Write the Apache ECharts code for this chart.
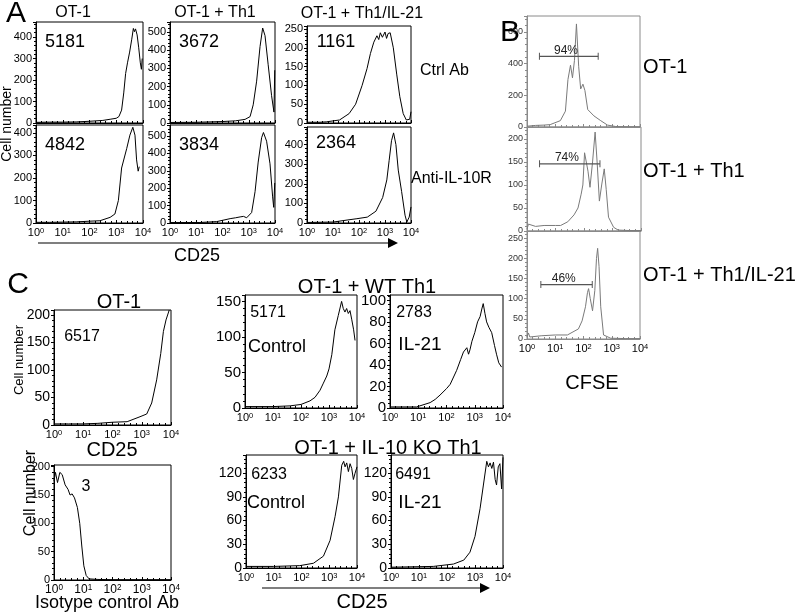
<!DOCTYPE html>
<html>
<head>
<meta charset="utf-8">
<script src="https://cdn.jsdelivr.net/npm/echarts@6/dist/echarts.min.js"></script>
<style>
  html, body { margin: 0; padding: 0; background: #fff; }
  #fig { width: 800px; height: 615px; }
</style>
</head>
<body>
<div id="fig"></div>
<script>
// x values are log10(fluorescence), y values are cell counts

// panel A, CD25 on OT-1 cells
var aOt1Ctrl = [[0,3],[0.5,4],[1,4],[1.5,5],[2,8],[2.5,12],[2.8,18],[3.0,22],[3.1,30],[3.2,60],[3.28,140],[3.35,230],[3.42,280],[3.5,330],[3.58,390],[3.64,440],[3.68,425],[3.72,438],[3.78,410],[3.84,350],[3.9,280],[3.94,250],[3.97,300]];
var aTh1Ctrl = [[0,3],[1,4],[2,8],[2.5,12],[2.86,20],[3.05,35],[3.17,100],[3.3,230],[3.43,420],[3.53,522],[3.62,480],[3.74,320],[3.87,150],[3.96,60],[3.99,290]];
var aIl21Ctrl = [[0,2],[0.5,2],[0.74,3],[1.25,8],[1.62,25],[1.87,50],[2.12,100],[2.31,145],[2.44,185],[2.57,215],[2.69,232],[2.76,222],[2.82,240],[2.9,228],[3.0,242],[3.06,225],[3.12,238],[3.2,240],[3.32,200],[3.45,130],[3.57,70],[3.7,25],[3.82,8],[3.95,10],[4.0,30]];
var aOt1Anti = [[0,3],[0.5,3],[1,4],[1.5,5],[2,8],[2.39,10],[2.77,25],[2.95,40],[3.08,100],[3.2,244],[3.39,330],[3.51,390],[3.62,425],[3.7,390],[3.76,280],[3.82,230],[3.86,250]];
var aTh1Anti = [[0,3],[1.14,3],[1.78,8],[2.29,25],[2.5,30],[2.67,35],[2.8,38],[2.92,30],[3.11,60],[3.24,180],[3.36,350],[3.49,490],[3.56,520],[3.68,470],[3.81,340],[3.91,150],[3.95,90],[3.99,230]];
var aIl21Anti = [[0,3],[0.12,3],[1.02,5],[1.54,15],[1.92,22],[2.32,30],[2.65,60],[2.91,130],[3.07,220],[3.16,320],[3.25,420],[3.33,460],[3.42,400],[3.51,270],[3.64,160],[3.77,40],[3.84,5],[3.93,30],[4.0,82]];
var aTitles = ['OT-1', 'OT-1 + Th1', 'OT-1 + Th1/IL-21'];
var aRows = ['Ctrl Ab', 'Anti-IL-10R'];
var aCounts = ['5181', '3672', '1161', '4842', '3834', '2364'];

// panel B, CFSE dilution
var bOt1 = [[0,5],[0.3,10],[0.6,12],[0.82,15],[1.18,40],[1.36,100],[1.45,300],[1.54,390],[1.61,310],[1.68,420],[1.75,650],[1.83,380],[1.9,240],[1.98,270],[2.05,230],[2.15,110],[2.37,70],[2.61,40],[2.85,12],[3.14,3],[3.6,1],[4,1]];
var bTh1 = [[0,4],[0.05,15],[0.3,10],[0.6,12],[1.0,12],[1.18,12],[1.43,20],[1.65,35],[1.79,50],[1.9,80],[1.96,100],[2.02,170],[2.07,170],[2.14,130],[2.21,95],[2.3,150],[2.39,215],[2.46,150],[2.54,65],[2.62,100],[2.71,135],[2.78,90],[2.86,30],[3.04,8],[3.2,2],[3.6,1],[4,1]];
var bIl21 = [[0,5],[0.05,15],[0.1,5],[0.5,8],[1.0,10],[1.43,10],[1.82,25],[1.95,45],[2.07,80],[2.14,115],[2.18,125],[2.24,100],[2.32,70],[2.4,120],[2.46,200],[2.5,225],[2.55,180],[2.61,80],[2.71,10],[2.96,2],[3.5,1],[4,1]];
// gate: [from, to, height]
var bGates = [[0.44, 2.52, 446], [0.44, 2.56, 146], [0.49, 2.31, 135]];
var bPercents = ['94%', '74%', '46%'];
var bNames = ['OT-1', 'OT-1 + Th1', 'OT-1 + Th1/IL-21'];

// panel C
var cOt1 = [[0,2],[0.5,2],[1,2],[1.5,3],[2,5],[2.5,6],[2.94,15],[3.17,20],[3.34,40],[3.51,82],[3.65,130],[3.74,170],[3.83,191],[3.94,209]];
var cIso = [[0,175],[0.05,190],[0.12,172],[0.2,190],[0.28,186],[0.38,168],[0.48,160],[0.55,150],[0.62,152],[0.7,145],[0.8,128],[0.88,100],[0.95,60],[1.02,25],[1.1,8],[1.2,2],[1.5,1],[2,0.5],[4,0.5]];
var cWtCtrl = [[0,2],[1,2],[1.61,3],[2.0,5],[2.32,10],[2.5,15],[2.68,25],[2.8,35],[2.92,45],[3.0,55],[3.1,75],[3.21,110],[3.33,130],[3.45,150],[3.51,140],[3.57,135],[3.63,140],[3.69,133],[3.75,137],[3.81,125],[3.88,110],[3.93,95]];
var cWtIl21 = [[0,1],[0.94,1],[1.42,5],[1.6,8],[1.77,12],[2.0,18],[2.13,22],[2.36,35],[2.5,45],[2.6,52],[2.72,56],[2.78,50],[2.83,54],[2.9,62],[3.0,70],[3.1,80],[3.19,85],[3.25,92],[3.3,97],[3.36,88],[3.42,80],[3.5,75],[3.6,70],[3.7,58],[3.77,50],[3.85,42],[3.95,38]];
var cKoCtrl = [[0,2],[1,2],[1.94,3],[2.43,6],[2.79,15],[3.03,35],[3.21,65],[3.33,90],[3.45,130],[3.52,135],[3.57,128],[3.63,133],[3.69,122],[3.75,132],[3.81,126],[3.87,112],[3.93,120],[4.0,128]];
var cKoIl21 = [[0,1],[1.51,2],[2.23,5],[2.6,10],[2.82,20],[3.0,40],[3.18,75],[3.3,105],[3.42,135],[3.48,128],[3.54,133],[3.6,126],[3.66,134],[3.72,112],[3.77,105],[3.83,128],[3.89,132],[3.95,100],[4.0,140]];
var cCounts = ['6517', '3', '5171', '2783', '6233', '6491'];
var cConds = ['Control', 'IL-21', 'Control', 'IL-21'];

var FONT = '"Liberation Sans", Arial, sans-serif';
var grids = [], xAxes = [], yAxes = [], seriesList = [], texts = [];

function addPanel(box, data, ymax, step, o) {
    var i = grids.length;
    var col = o.gray ? '#8a8a8a' : '#000';
    grids.push({ left: box[0], top: box[1], width: box[2], height: box[3], show: true,
        borderColor: col, borderWidth: 1, backgroundColor: 'transparent' });
    xAxes.push({
        gridIndex: i, type: 'value', min: 0, max: 4, interval: 1,
        axisLine: { show: true, lineStyle: { color: col } },
        axisTick: { show: true, inside: true, length: 3, lineStyle: { color: col } },
        minorTick: { show: true, splitNumber: 5, length: 2, lineStyle: { color: col } },
        splitLine: { show: false },
        axisLabel: {
            show: !!o.xLabels, margin: 4, color: '#000', fontFamily: FONT, fontSize: o.xfs || 11,
            formatter: function (v) { return '10{s|' + v + '}'; },
            rich: { s: { fontSize: (o.xfs || 11) * 0.68, verticalAlign: 'top', fontFamily: FONT, color: '#000' } }
        }
    });
    yAxes.push({
        gridIndex: i, type: 'value', min: 0, max: ymax, interval: step,
        axisLine: { show: true, lineStyle: { color: col } },
        axisTick: { show: true, length: 3, lineStyle: { color: col } },
        minorTick: { show: true, splitNumber: 5, length: 2, lineStyle: { color: col } },
        splitLine: { show: false },
        axisLabel: {
            margin: 4, color: o.gray ? '#333' : '#000', fontFamily: FONT, fontSize: o.yfs || 11,
            formatter: function (v) { return Math.abs(v / step - Math.round(v / step)) < 1e-6 ? v : ''; }
        }
    });
    seriesList.push({
        type: 'line', xAxisIndex: i, yAxisIndex: i, data: data, symbol: 'none',
        lineStyle: { color: o.gray ? '#7a7a7a' : '#000', width: 1 }, silent: true, z: 3
    });
    if (o.gate) {
        var g = o.gate;
        seriesList.push({
            type: 'line', xAxisIndex: i, yAxisIndex: i, data: [[g[0], g[2]], [g[1], g[2]]],
            symbol: 'rect', symbolSize: [1, 7], showSymbol: true,
            itemStyle: { color: '#555' }, lineStyle: { color: '#555', width: 1.2 }, silent: true, z: 4,
            markPoint: {
                symbol: 'circle', symbolSize: 0, silent: true,
                data: [{ coord: [(g[0] + g[1]) / 2 - 0.1, g[2]] }],
                label: { show: true, position: 'top', distance: 0, formatter: o.pct,
                    color: '#222', fontFamily: FONT, fontSize: 12 }
            }
        });
    }
}

function txt(s, x, y, size, extra) {
    var t = { type: 'text', x: x, y: y, z: 10, silent: true,
        style: { text: s, fontFamily: FONT, fontSize: size, fill: '#000', align: 'center', verticalAlign: 'middle' } };
    if (extra) for (var k in extra) t[k] = extra[k];
    if (extra && extra.align) t.style.align = extra.align;
    return t;
}

// ---- panel A ----
var aCols = [[36, 107], [170, 105], [307, 104]];
var aData = [aOt1Ctrl, aTh1Ctrl, aIl21Ctrl, aOt1Anti, aTh1Anti, aIl21Anti];
var aMax = [470, 555, 258, 435, 563, 490];
var aStep = [100, 100, 50, 100, 100, 100];
var aTop = [[22, 22, 26], [125, 125, 127]];
var aBottom = [123, 223];
for (var r = 0; r < 2; r++) {
    for (var c = 0; c < 3; c++) {
        var k = r * 3 + c;
        addPanel([aCols[c][0], aTop[r][c], aCols[c][1], aBottom[r] - aTop[r][c]], aData[k], aMax[k], aStep[k],
            { xLabels: r === 1, yfs: 11 });
        texts.push(txt(aCounts[k], aCols[c][0] + 29, aTop[r][c] + (c === 2 ? 16 : 20), 18));
    }
}
texts.push(txt('A', 16, 14, 30));
texts.push(txt(aTitles[0], 73, 13, 16));
texts.push(txt(aTitles[1], 215, 13, 16));
texts.push(txt(aTitles[2], 362, 14, 16));
texts.push(txt(aRows[0], 420, 71, 16, { align: 'left' }));
texts.push(txt(aRows[1], 411, 179, 16, { align: 'left' }));
texts.push(txt('Cell number', 7, 124, 14, { rotation: Math.PI / 2 }));
texts.push(txt('CD25', 197, 256, 18));

// ---- panel B ----
var bBoxes = [[527, 16, 113, 111], [527, 127, 114, 104], [527, 231, 113, 108]];
var bData = [bOt1, bTh1, bIl21];
var bMax = [700, 226, 268];
var bStep = [200, 50, 50];
var bNameY = [67, 171, 275];
for (var j = 0; j < 3; j++) {
    addPanel(bBoxes[j], bData[j], bMax[j], bStep[j],
        { gray: true, xLabels: j === 2, yfs: 9, xfs: 11, gate: bGates[j], pct: bPercents[j] });
    texts.push(txt(bNames[j], 643, bNameY[j], 20, { align: 'left' }));
}
texts.push(txt('B', 510, 33, 30));
texts.push(txt('CFSE', 592, 383, 20));

// ---- panel C ----
addPanel([54, 310, 117, 115], cOt1, 209, 50, { xLabels: true, yfs: 14, xfs: 11 });
addPanel([54, 465, 117, 115], cIso, 203, 50, { xLabels: true, yfs: 11, xfs: 12 });
addPanel([245, 295, 112, 113], cWtCtrl, 159, 50, { xLabels: true, yfs: 15, xfs: 11 });
addPanel([390, 295, 113, 113], cWtIl21, 105, 20, { xLabels: true, yfs: 15, xfs: 11 });
addPanel([246, 455, 111, 113], cKoCtrl, 143, 30, { xLabels: true, yfs: 14, xfs: 11 });
addPanel([391, 455, 112, 113], cKoIl21, 143, 30, { xLabels: true, yfs: 14, xfs: 11 });

texts.push(txt('C', 18, 285, 30));
texts.push(txt('OT-1', 119, 302, 20));
texts.push(txt('Cell number', 19, 360, 13, { rotation: Math.PI / 2 }));
texts.push(txt('Cell number', 31, 493, 16, { rotation: Math.PI / 2 }));
texts.push(txt(cCounts[0], 82, 337, 16));
texts.push(txt(cCounts[1], 86, 487, 16));
texts.push(txt('CD25', 112, 450, 20));
texts.push(txt('Isotype control Ab', 107, 603, 18));
texts.push(txt('OT-1 + WT Th1', 367, 287, 20));
texts.push(txt('OT-1 + IL-10 KO Th1', 388, 448, 20));
texts.push(txt(cCounts[2], 268, 313, 16));
texts.push(txt(cCounts[3], 414, 313, 16));
texts.push(txt(cCounts[4], 269, 475, 16));
texts.push(txt(cCounts[5], 413, 475, 16));
texts.push(txt(cConds[0], 277, 347, 18));
texts.push(txt(cConds[1], 420, 345, 19));
texts.push(txt(cConds[2], 276, 503, 18));
texts.push(txt(cConds[3], 420, 503, 19));
texts.push(txt('CD25', 362, 602, 20));

// arrows under the CD25 axes
function arrow(x1, x2, y) {
    return [
        { type: 'line', silent: true, shape: { x1: x1, y1: y, x2: x2 - 8, y2: y }, style: { stroke: '#000', lineWidth: 1.2 } },
        { type: 'polygon', silent: true, shape: { points: [[x2 - 10, y - 5], [x2, y], [x2 - 10, y + 5]] }, style: { fill: '#000' } }
    ];
}

var myChart = echarts.init(document.getElementById('fig'), null, { renderer: 'canvas' });
var option = {
    backgroundColor: '#fff',
    animation: false,
    grid: grids,
    xAxis: xAxes,
    yAxis: yAxes,
    series: seriesList,
    graphic: texts.concat(arrow(38, 398, 243)).concat(arrow(262, 490, 588))
};
myChart.setOption(option);
</script>
</body>
</html>
